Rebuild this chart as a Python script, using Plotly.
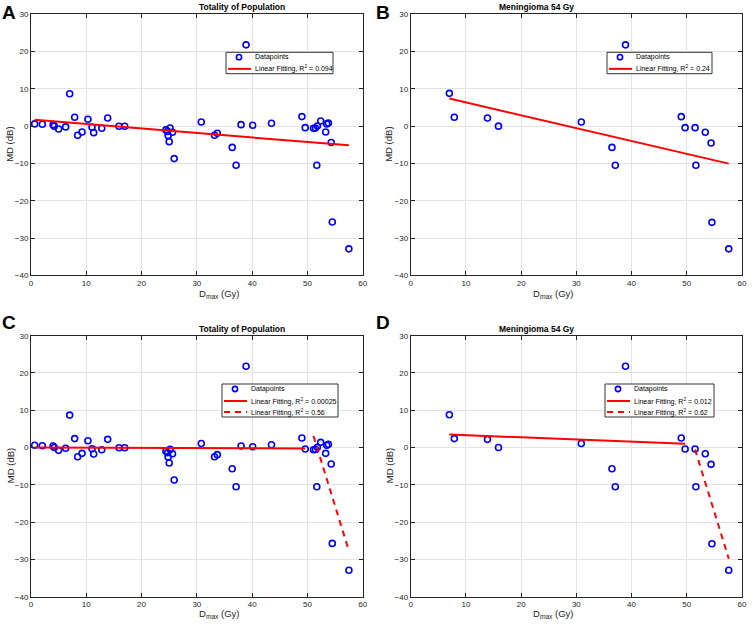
import plotly.graph_objects as go
from plotly.subplots import make_subplots

# all patients
total_dmax = [0.66, 2.05, 4.0, 4.2, 5.0, 6.27, 7.0, 7.9, 8.44, 9.23, 10.3, 11.04, 11.34, 12.8,
              13.87, 15.92, 16.95, 24.4, 24.7, 24.8, 25.0, 25.15, 25.6, 25.9, 30.8, 33.2, 33.7,
              36.4, 37.1, 38.0, 38.9, 40.1, 43.5, 49.0, 49.6, 51.1, 51.45, 51.7, 51.8, 52.4,
              53.3, 53.5, 53.8, 54.3, 54.5, 57.5]
total_md = [0.6, 0.5, 0.4, 0.0, -0.75, -0.2, 8.7, 2.4, -2.45, -1.56, 1.84, -0.3, -1.74, -0.57,
            2.2, -0.04, -0.04, -1.0, -1.4, -2.5, -4.15, -0.5, -1.65, -8.7, 1.1, -2.45, -1.9,
            -5.7, -10.5, 0.4, 21.8, 0.23, 0.77, 2.56, -0.4, -0.57, -0.5, -10.5, 0.05, 1.4,
            -1.56, 0.6, 0.86, -4.4, -25.7, -32.9]

# meningioma 54 Gy subgroup
men_dmax = [7.0, 7.9, 13.9, 15.9, 30.9, 36.45, 37.05, 38.9, 49.0, 49.7, 51.5, 51.65, 53.35,
            54.4, 54.55, 57.6]
men_md = [8.8, 2.4, 2.2, 0.0, 1.1, -5.7, -10.5, 21.8, 2.55, -0.4, -0.4, -10.5, -1.65, -4.5,
          -25.8, -32.9]

# fitted lines (end points)
fitA_x, fitA_y = [0.66, 57.5], [1.7, -5.15]
fitB_x, fitB_y = [7.0, 57.6], [7.4, -10.05]
fitC1_x, fitC1_y = [0.66, 49.6], [0.0, -0.25]
fitC2_x, fitC2_y = [51.1, 57.5], [3.1, -27.7]
fitD1_x, fitD1_y = [7.0, 49.7], [3.5, 1.0]
fitD2_x, fitD2_y = [51.5, 57.6], [-0.5, -29.8]

titles = ["Totality of Population", "Meningioma 54 Gy", "Totality of Population", "Meningioma 54 Gy"]
letters = ["A", "B", "C", "D"]
r2_labels = [["0.094"], ["0.24"], ["0.00025", "0.56"], ["0.012", "0.62"]]

W, H = 753, 627
px = lambda v: v / W
py = lambda v: 1 - v / H
xdom = [[px(31), px(362.7)], [px(410.7), px(742)]]
ydom = [[py(275.3), py(14.3)], [py(596.7), py(335.7)]]
xtitle_y = [294, 614]
ytitle_x = [10, 389]

fig = make_subplots(rows=2, cols=2)

panels = [
    (total_dmax, total_md, [(fitA_x, fitA_y, "solid")]),
    (men_dmax, men_md, [(fitB_x, fitB_y, "solid")]),
    (total_dmax, total_md, [(fitC1_x, fitC1_y, "solid"), (fitC2_x, fitC2_y, "dash")]),
    (men_dmax, men_md, [(fitD1_x, fitD1_y, "solid"), (fitD2_x, fitD2_y, "dash")]),
]

font = "Liberation Sans, Arial, sans-serif"
ink = "#262626"
DASH = "6px,5px"
# legend boxes in pixels: left, top, right, bottom
legend_box = [(226, 52.3, 333, 73.7), (607, 52.3, 712, 73.7), (222, 384, 338, 417), (605, 384, 714, 417)]


def draw_legend(box, labels, dashes):
    x0, y0, x1, y1 = box
    fig.add_shape(type="rect", xref="paper", yref="paper", x0=px(x0), x1=px(x1), y0=py(y1),
                  y1=py(y0), line=dict(color="#333333", width=1), fillcolor="white", layer="above")
    n = len(labels) + 1
    step = (y1 - y0) / n
    rows = [y0 + step * (k + 0.5) + 0.5 for k in range(n)]
    rows[0] -= 1
    # marker entry
    cx = x0 + 13
    fig.add_shape(type="circle", xref="paper", yref="paper", x0=px(cx - 2.6), x1=px(cx + 2.6),
                  y0=py(rows[0] + 2.6), y1=py(rows[0] - 2.6),
                  line=dict(color="#0000ff", width=1.6), layer="above")
    fig.add_annotation(text="Datapoints", xref="paper", yref="paper", x=px(x0 + 27), y=py(rows[0]),
                       xanchor="left", yanchor="middle", showarrow=False,
                       font=dict(size=7, color="black", family=font))
    for k, (lab, dash) in enumerate(zip(labels, dashes)):
        yy = rows[k + 1]
        fig.add_shape(type="line", xref="paper", yref="paper", x0=px(x0 + 2), x1=px(x0 + 25),
                      y0=py(yy), y1=py(yy), layer="above",
                      line=dict(color="#ff0000", width=2, dash=DASH if dash == "dash" else "solid"))
        fig.add_annotation(text="Linear Fitting, R<sup>2</sup> = " + lab, xref="paper", yref="paper",
                           x=px(x0 + 27), y=py(yy), xanchor="left", yanchor="middle",
                           showarrow=False, font=dict(size=7, color="black", family=font))


for i, (xs, ys, fits) in enumerate(panels):
    r, c = i // 2 + 1, i % 2 + 1
    fig.add_trace(go.Scatter(x=xs, y=ys, mode="markers", name="Datapoints",
                             marker=dict(symbol="circle-open", size=6, color="#0000ff",
                                         line=dict(width=1.6, color="#0000ff"))),
                  row=r, col=c)
    for (fx, fy, dash), lab in zip(fits, r2_labels[i]):
        fig.add_trace(go.Scatter(x=fx, y=fy, mode="lines",
                                 name="Linear Fitting, R<sup>2</sup> = " + lab,
                                 line=dict(color="#ff0000", width=2,
                                           dash=DASH if dash == "dash" else "solid")),
                      row=r, col=c)

    ax = "" if i == 0 else str(i + 1)
    fig.layout["xaxis" + ax].update(
        domain=xdom[c - 1], range=[0, 60], dtick=10, showgrid=True, gridcolor="#e3e3e3",
        zeroline=False, showline=True, linecolor=ink, linewidth=1, mirror="ticks",
        ticks="inside", ticklen=4, tickcolor=ink, tickfont=dict(size=8, color=ink, family=font),
        automargin=False)
    fig.layout["yaxis" + ax].update(
        domain=ydom[r - 1], range=[-40, 30], dtick=10, showgrid=True, gridcolor="#e3e3e3",
        zeroline=False, showline=True, linecolor=ink, linewidth=1, mirror="ticks",
        ticks="inside", ticklen=4, tickcolor=ink, tickfont=dict(size=8, color=ink, family=font),
        automargin=False)

    # axis titles
    fig.add_annotation(text="D<sub>max</sub> (Gy)", xref="paper", yref="paper",
                       x=sum(xdom[c - 1]) / 2, y=py(xtitle_y[r - 1]), yanchor="middle",
                       showarrow=False, font=dict(size=9.5, color=ink, family=font))
    fig.add_annotation(text="MD (dB)", xref="paper", yref="paper", textangle=-90,
                       x=px(ytitle_x[c - 1]), y=sum(ydom[r - 1]) / 2, xanchor="center",
                       yanchor="middle", showarrow=False,
                       font=dict(size=9.5, color=ink, family=font))

    draw_legend(legend_box[i], r2_labels[i], [f[2] for f in fits])

    fig.add_annotation(text="<b>" + titles[i] + "</b>", xref="paper", yref="paper",
                       x=sum(xdom[c - 1]) / 2, y=ydom[r - 1][1], yanchor="bottom",
                       showarrow=False, font=dict(size=8.5, color="black", family=font))
    fig.add_annotation(text="<b>" + letters[i] + "</b>", xref="paper", yref="paper",
                       x=px(0 if c == 1 else 374), y=py(0 if r == 1 else 310),
                       xanchor="left", yanchor="top", showarrow=False,
                       font=dict(size=19, color="black", family=font))

fig.update_layout(width=W, height=H, margin=dict(l=0, r=0, t=0, b=0, autoexpand=False),
                  plot_bgcolor="white", paper_bgcolor="white", showlegend=False)

# drop the default page margin so the figure sits at the window corner
fig.write_html("out.html", config={"displayModeBar": False},
               post_script="document.body.style.margin = '0';")
